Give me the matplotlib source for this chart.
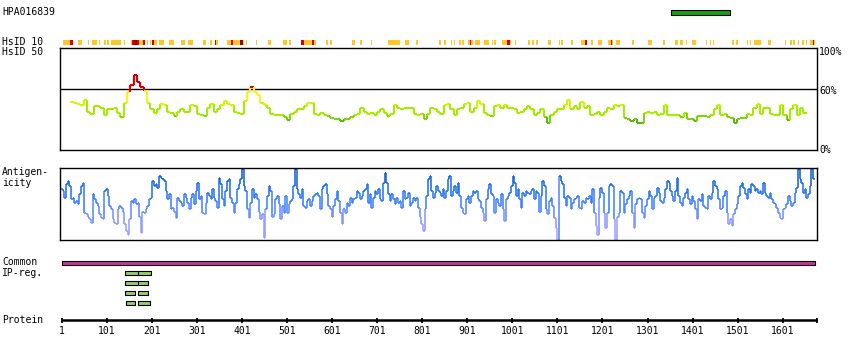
import numpy as np
import matplotlib
matplotlib.use('Agg')
import matplotlib.pyplot as plt
from matplotlib.collections import LineCollection
from matplotlib.colors import LinearSegmentedColormap, ListedColormap, BoundaryNorm

# ---- data (residue positions / scores) ----
antibody = 'HPA016839'
protein_len = 1677
tick_pos = [1, 101, 201, 301, 401, 501, 601, 701, 801, 901, 1001, 1101, 1201, 1301, 1401, 1501, 1601]
epitope = (1353, 1484)
common_reg = (1, 1673)
ip_rows = [[(141, 170), (170, 199)],
           [(141, 170), (170, 193)],
           [(141, 164), (170, 193)],
           [(143, 164), (170, 196)]]

hsid10_hits = [(3, 25), (36, 45), (58, 60), (67, 78), (83, 85), (94, 98), (101, 105), (110, 133),
               (138, 140), (155, 186), (190, 193), (196, 199), (201, 213), (216, 227), (238, 250),
               (265, 274), (281, 291), (314, 320), (330, 333), (340, 348), (353, 355), (367, 405),
               (410, 412), (432, 435), (458, 466), (491, 500), (505, 509), (531, 564), (588, 591),
               (596, 600), (645, 651), (662, 666), (688, 690), (725, 751), (762, 766), (768, 771),
               (787, 791), (817, 819), (838, 842), (850, 854), (864, 866), (872, 874), (882, 886),
               (889, 893), (903, 913), (917, 929), (938, 949), (955, 959), (961, 964), (978, 997),
               (1007, 1009), (1036, 1040), (1044, 1050), (1053, 1057), (1081, 1086), (1104, 1106),
               (1110, 1114), (1131, 1135), (1153, 1166), (1175, 1179), (1192, 1199), (1213, 1225),
               (1232, 1240), (1266, 1270), (1303, 1312), (1335, 1339), (1363, 1368), (1374, 1379),
               (1386, 1388), (1400, 1408), (1430, 1432), (1439, 1442), (1446, 1448), (1488, 1493),
               (1497, 1501), (1521, 1525), (1529, 1531), (1538, 1553), (1569, 1575), (1607, 1609),
               (1618, 1622), (1625, 1628), (1635, 1638), (1645, 1649), (1653, 1656), (1662, 1673)]
hsid10_red = [(19, 25), (157, 172), (181, 186), (201, 206), (341, 344), (376, 380), (531, 538),
              (555, 560), (906, 909), (988, 996), (1162, 1166), (1221, 1223), (1668, 1670)]
hsid10_dark = [(161, 168), (396, 402)]

hsid50 = [47, 46, 45, 44, 49, 38, 36, 43, 43, 41, 35, 40, 40, 41, 37, 33, 46, 57, 64, 74,
          67, 62, 58, 46, 40, 37, 40, 45, 44, 38, 37, 34, 38, 40, 38, 38, 44, 43, 36, 35,
          34, 41, 45, 38, 40, 44, 48, 45, 44, 38, 37, 36, 48, 57, 62, 57, 54, 46, 44, 41,
          36, 35, 35, 35, 33, 30, 36, 38, 40, 40, 43, 46, 46, 36, 35, 37, 35, 34, 32, 31,
          31, 29, 31, 31, 33, 35, 36, 41, 38, 36, 37, 35, 38, 40, 37, 34, 36, 44, 41, 40,
          41, 41, 41, 36, 35, 36, 31, 36, 41, 40, 38,
          36, 44, 45, 40, 35, 40, 41, 45, 46, 38, 41, 48, 45, 37, 35, 34, 43, 44, 41, 44,
          41, 41, 40, 37, 38, 40, 43, 40, 35, 37, 40, 33, 27, 35, 38, 40, 40, 44, 49, 40,
          43, 40, 47, 41, 43, 35, 36, 38, 35, 38, 41, 40, 44, 43, 44, 32, 31, 29, 31, 27,
          27, 37, 38, 37, 38, 35, 36, 44, 35, 35, 35, 35, 33, 37, 31, 31, 29, 34, 34, 34,
          33, 35, 40, 44, 35, 36, 33, 32, 27, 31, 32, 32, 36, 35, 41, 45, 36, 41, 41, 36,
          35, 35, 44, 35, 30, 40, 44, 35, 41, 37]
hsid50_range = (23, 1651)

antigen = [71, 68, 59, 78, 82, 75, 57, 59, 52, 54, 50, 64, 75, 80, 38, 36, 33, 29, 24, 64,
           57, 52, 47, 36, 31, 29, 68, 71, 61, 47, 43, 29, 24, 22, 43, 47, 45, 40, 22, 13,
           8, 29, 54, 52, 57, 50, 52, 33, 10, 40, 38, 43, 47, 57, 59, 82, 75, 78, 73, 89,
           87, 85, 82, 68, 57, 64, 43, 45, 40, 31, 59, 54, 52, 47, 64, 59, 52, 43, 59, 64,
           50, 68, 80, 57, 61, 38, 36, 52, 66, 61, 57, 71, 59, 54, 45, 87, 78, 57, 47, 68,
           82, 85, 59, 52, 38, 52, 71, 78, 85, 99, 75, 68, 43, 31, 52, 71, 59, 64, 57, 40,
           29, 36, 3, 43, 61, 75, 68, 33, 36, 57, 61, 50, 29, 47, 38, 61, 38, 50, 54, 57,
           75, 99, 71, 64, 59, 71, 47, 45, 54, 57, 47, 54, 61, 64, 66, 61, 43, 71, 75, 78,
           64, 47, 43, 33, 47, 57, 68, 54, 38, 22, 43, 38, 52, 47, 59, 52, 57, 59, 68, 66,
           57, 61, 68, 71, 78, 52, 64, 45, 59, 68, 64, 71, 57, 54, 80, 94, 80, 64, 54, 64,
           57, 50, 59, 52, 54, 45, 68, 57, 59, 66, 47, 52, 59, 54, 59, 45, 33, 22, 13, 43,
           61, 85, 89, 68, 59, 66, 75, 68, 66,
           61, 71, 59, 68, 85, 89, 61, 68, 75, 66, 80, 61, 45, 38, 36, 57, 61, 52, 61, 68,
           66, 68, 57, 54, 45, 38, 27, 57, 71, 78, 64, 61, 38, 57, 52, 47, 64, 43, 27, 57,
           61, 66, 75, 89, 80, 61, 71, 57, 45, 66, 61, 68, 66, 64, 68, 71, 57, 68, 66, 40,
           61, 82, 75, 43, 36, 54, 59, 47, 31, 17, 1, 89, 82, 78, 59, 47, 61, 59, 43, 52,
           57, 59, 61, 45, 43, 54, 52, 59, 57, 61, 52, 71, 38, 20, 8, 59, 73, 66, 38, 17,
           38, 75, 78, 75, 29, 1, 33, 38, 68, 66, 38, 50, 57, 61, 68, 38, 17, 50, 57, 59,
           57, 38, 31, 47, 57, 68, 61, 43, 59, 61, 73, 66, 54, 52, 59, 71, 82, 80, 68, 61,
           54, 68, 87, 61, 52, 47, 59, 66, 71, 57, 50, 61, 54, 43, 29, 57, 54, 64, 47, 45,
           43, 61, 57, 66, 82, 75, 71, 57, 43, 45, 61, 68, 38, 22, 29, 20, 36, 43, 50, 61,
           75, 80, 73, 64, 57, 71, 66, 78, 75, 68, 71, 66, 68, 64, 80, 66, 61, 59, 66, 57,
           52, 50, 45, 38, 31, 29, 43, 45, 50, 61, 54, 47, 52, 66, 73, 99, 85, 80, 66, 71,
           59, 64, 75, 99, 85]
antigen_range = (1, 1670)

# ---- layout helpers (pixel boxes on an 850x360 canvas) ----
W, H = 850, 360
PX_PER_RES = 0.4504
X_RES1 = 62


def box(x0, y0, x1, y1):
    return [x0 / W, 1 - y1 / H, (x1 - x0) / W, (y1 - y0) / H]


def xlim_for(x0, x1):
    return (1 + (x0 - X_RES1) / PX_PER_RES, 1 + (x1 - X_RES1) / PX_PER_RES)


def step_segments(x, v):
    dx = x[1] - x[0]
    segs, vals = [], []
    for i in range(len(x)):
        segs.append([(x[i] - dx / 2, v[i]), (x[i] + dx / 2, v[i])])
        vals.append(v[i])
        if i < len(x) - 1:
            segs.append([(x[i] + dx / 2, v[i]), (x[i] + dx / 2, v[i + 1])])
            vals.append((v[i] + v[i + 1]) / 2)
    return segs, np.array(vals)


def spans(lst):
    return [(a, b - a) for a, b in lst]


plt.rcParams['font.family'] = ['DejaVu Sans Mono']
plt.rcParams['font.size'] = 7

fig = plt.figure(figsize=(8.5, 3.6), dpi=100)
fig.patch.set_facecolor('white')

# track axes: x in residues, y in canvas pixels (layout only)
track = fig.add_axes(box(0, 0, W, H))
track.set_xlim(*xlim_for(0, W))
track.set_ylim(H, 0)
track.axis('off')

track.broken_barh([(epitope[0], epitope[1] - epitope[0])], (10.3, 4.4),
                  facecolors='#14a014', edgecolors='black', linewidth=0.8)

track.broken_barh(spans(hsid10_hits), (40, 5), facecolors='#ffc629', edgecolors='none')
track.broken_barh(spans(hsid10_red), (40, 5), facecolors='#dd0000', edgecolors='none')
track.broken_barh(spans(hsid10_dark), (40, 5), facecolors='#a00000', edgecolors='none')

track.broken_barh([(common_reg[0], common_reg[1] - common_reg[0])], (260.7, 4),
                  facecolors='#cc3399', edgecolors='black', linewidth=0.8)
for i, row in enumerate(ip_rows):
    track.broken_barh(spans(row), (270.7 + 10 * i, 4),
                      facecolors='#99cc66', edgecolors='black', linewidth=0.8)

track.plot([1, protein_len], [320, 320], color='black', lw=1.8, solid_capstyle='butt')
track.vlines(tick_pos + [protein_len], 317.8, 322.8, color='black', lw=1.3)
for t in tick_pos:
    track.text(t, 331, str(t), ha='center', va='center')

# HsID 50 panel
ax1 = fig.add_axes(box(60, 48.3, 817, 150.3))
ax1.set_xlim(*xlim_for(60, 817))
ax1.set_ylim(0, 100)
ax1.set_xticks([])
ax1.set_yticks([])
for s in ax1.spines.values():
    s.set_linewidth(1.0)
ax1.axhline(60, color='black', lw=1.0)
x50 = np.linspace(hsid50_range[0], hsid50_range[1], len(hsid50))
segs, vals = step_segments(x50, hsid50)
cmap50 = ListedColormap(['#5db516', '#82d30a', '#a4ec00', '#cff800', '#ffee20', '#dd0000'])
norm50 = BoundaryNorm([0, 31, 35, 44, 50, 60, 101], cmap50.N)
lc = LineCollection(segs, cmap=cmap50, norm=norm50, linewidths=1.5, capstyle='butt')
lc.set_array(vals)
ax1.add_collection(lc)

# Antigenicity panel
ax2 = fig.add_axes(box(60, 168.3, 817, 240.3))
ax2.set_xlim(*xlim_for(60, 817))
ax2.set_ylim(0, 100)
ax2.set_xticks([])
ax2.set_yticks([])
for s in ax2.spines.values():
    s.set_linewidth(1.0)
xa = np.linspace(antigen_range[0], antigen_range[1], len(antigen))
segs, vals = step_segments(xa, antigen)
cmap_ag = LinearSegmentedColormap.from_list(
    'ag', [(0, '#b0a8ff'), (0.3, '#8494ff'), (0.5, '#3e80ff'), (0.7, '#1a6ef0'), (1, '#0050c0')])
lc2 = LineCollection(segs, cmap=cmap_ag, linewidths=1.1, capstyle='butt')
lc2.set_array(vals)
lc2.set_clim(0, 100)
ax2.add_collection(lc2)

# labels
def label(x, y, s, **kw):
    fig.text(x / W, 1 - y / H, s, va='center', **kw)

label(2, 12, antibody)
label(2, 42, 'HsID 10')
label(2, 52, 'HsID 50')
label(2, 172, 'Antigen-')
label(2, 183, 'icity')
label(2, 262, 'Common')
label(2, 273, 'IP-reg.')
label(2, 320, 'Protein')
label(819, 52, '100%')
label(819, 90.5, '60%')
label(819, 150, '0%')

fig.savefig('out.png', dpi=100, facecolor='white')
